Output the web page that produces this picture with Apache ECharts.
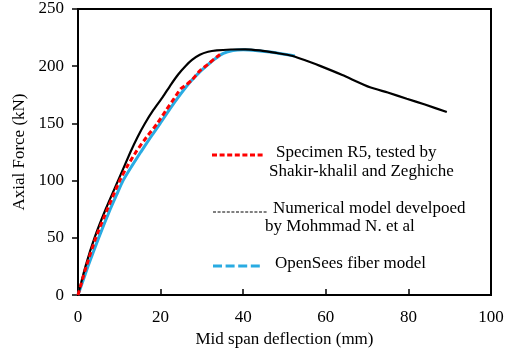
<!DOCTYPE html>
<html>
<head>
<meta charset="utf-8">
<script src="https://cdn.jsdelivr.net/npm/echarts@6/dist/echarts.min.js"></script>
<style>
  html, body { margin: 0; padding: 0; background: #fff; }
  #chart { width: 507px; height: 353px; }
</style>
</head>
<body>
<div id="chart"></div>
<script>
// Load–deflection curves: [mid span deflection (mm), axial force (kN)]
const specimenR5 = [
  [0, 0], [2, 25], [4.3, 50], [7.1, 75], [10.1, 100], [12, 113], [14.2, 126],
  [16.6, 138], [19.2, 150], [21.4, 162], [23.3, 172], [24.8, 180], [26.3, 184],
  [27.6, 188], [29.5, 196], [31.6, 202], [33, 206.5], [34.4, 210.3]
];
const numericalModel = [
  [0, 0], [1.8, 25], [4, 50], [6.7, 75], [9.7, 100], [12.7, 125], [14.4, 138],
  [16.2, 150], [18.3, 162], [20.5, 173], [22.5, 184], [24.3, 193], [26, 200],
  [27.6, 205.5], [29.5, 210], [31.5, 212.6], [33.6, 213.8], [37, 214.6],
  [40.5, 214.8], [44, 213.8], [48, 211.6], [52, 208.9], [55.5, 204.5],
  [58.6, 200.3], [64, 192.3], [70.7, 181.6], [75, 177], [79.6, 171.6],
  [84, 166.5], [89.3, 160]
];
const openSeesFiber = [
  [0, 0], [2.4, 25], [5, 50], [7.8, 75], [9.4, 88], [10.9, 100], [12.9, 112],
  [15.2, 125], [17.5, 137.5], [19.9, 150], [22.3, 163], [24.7, 175], [27.1, 186],
  [29.2, 194], [31.2, 200.5], [33.2, 206.5], [35.2, 211.3], [37.5, 213.7],
  [40, 214.3], [43, 213.8], [46.5, 212.4], [50, 210.5], [52.5, 209]
];
const xTicks = [0, 20, 40, 60, 80, 100];
const yTicks = [0, 50, 100, 150, 200, 250];
const legendLines = [
  ['Specimen R5, tested by', 'Shakir-khalil and Zeghiche'],
  ['Numerical model develpoed', 'by Mohmmad N. et al'],
  ['OpenSees fiber model']
];

const FONT = '"Liberation Serif", "Times New Roman", serif';
const chart = echarts.init(document.getElementById('chart'), null, { renderer: 'canvas' });

function legendText(x, y, text) {
  return { type: 'text', left: x, top: y,
    style: { text: text, font: '17px ' + FONT, fill: '#000' } };
}
function legendSample(x1, x2, y, color, width, dash) {
  return { type: 'line', shape: { x1: x1, y1: y, x2: x2, y2: y },
    style: { stroke: color, lineWidth: width, lineDash: dash } };
}

chart.setOption({
  animation: false,
  backgroundColor: '#fff',
  grid: { left: 78, right: 16, top: 9, bottom: 54, show: true,
          borderColor: '#000', borderWidth: 2, backgroundColor: 'transparent' },
  xAxis: {
    type: 'value', min: xTicks[0], max: xTicks[xTicks.length - 1], interval: 20,
    name: 'Mid span deflection (mm)', nameLocation: 'middle', nameGap: 30,
    nameTextStyle: { fontFamily: FONT, fontSize: 17, color: '#000' },
    axisLine: { lineStyle: { color: '#000', width: 2 } },
    axisTick: { inside: true, length: 6, lineStyle: { color: '#000', width: 1.5 } },
    axisLabel: { fontFamily: FONT, fontSize: 17, color: '#000', margin: 14 },
    splitLine: { show: false }
  },
  yAxis: {
    type: 'value', min: yTicks[0], max: yTicks[yTicks.length - 1], interval: 50,
    name: 'Axial Force (kN)', nameLocation: 'middle', nameGap: 47, nameRotate: 90,
    nameTextStyle: { fontFamily: FONT, fontSize: 17, color: '#000' },
    axisLine: { lineStyle: { color: '#000', width: 2 } },
    axisTick: { inside: false, length: 6, lineStyle: { color: '#000', width: 1.5 } },
    axisLabel: { fontFamily: FONT, fontSize: 17, color: '#000', margin: 14 },
    splitLine: { show: false }
  },
  series: [
    { name: 'OpenSees fiber model', type: 'line', data: openSeesFiber,
      smooth: 0.2, showSymbol: false,
      lineStyle: { color: '#29abe2', width: 3 }, z: 2 },
    { name: 'Numerical model', type: 'line', data: numericalModel,
      smooth: 0.2, showSymbol: false,
      lineStyle: { color: '#000', width: 2.2 }, z: 3 },
    { name: 'Specimen R5', type: 'line', data: specimenR5,
      smooth: 0.2, showSymbol: false,
      lineStyle: { color: '#ff0000', width: 3, type: [5, 3] }, z: 4 }
  ],
  graphic: [
    legendSample(212, 265, 155, '#ff0000', 3, [5, 2.6]),
    legendText(276, 144, legendLines[0][0]),
    legendText(269, 163, legendLines[0][1]),
    legendSample(213, 267, 212, '#000', 1, [3, 1.6]),
    legendText(273, 200, legendLines[1][0]),
    legendText(265, 218, legendLines[1][1]),
    legendSample(213, 263, 266, '#29abe2', 3, [9, 3.6]),
    legendText(275, 255, legendLines[2][0])
  ]
});
</script>
</body>
</html>
